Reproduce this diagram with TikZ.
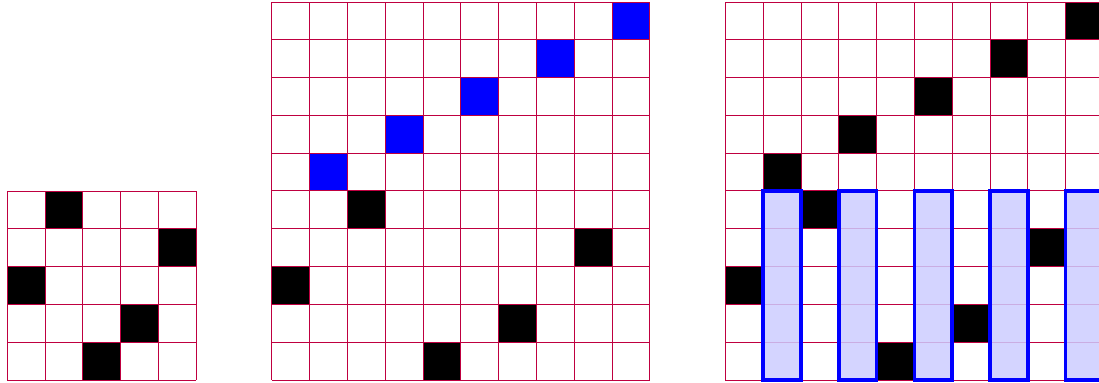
\documentclass[tikz,border=0pt]{standalone}
\usepackage{xcolor}
\usepackage{tikz}

\tikzset{
  gridline/.style={purple, line width=0.6pt},
  strip/.style={draw=blue, line width=2.6pt, fill=blue!20, fill opacity=0.85},
}

\begin{document}
\begin{tikzpicture}
  \useasboundingbox (-0.19,-0.07) rectangle (28.884,10.05);
  % small board
  \foreach \c/\r in {2/1,5/2,1/3,4/4,3/5}
    \fill[black] (\c-1,5-\r) rectangle ++(1,1);
  \draw[gridline] (0,0) grid (5,5);
  % middle board
  \foreach \c/\r in {10/1,8/2,6/3,4/4,2/5}
    \fill[blue] (6+\c,10-\r) rectangle ++(1,1);
  \foreach \c/\r in {3/6,9/7,1/8,7/9,5/10}
    \fill[black] (6+\c,10-\r) rectangle ++(1,1);
  \draw[gridline] (7,0) grid (17,10);
  % right board
  \foreach \c/\r in {10/1,8/2,6/3,4/4,2/5,3/6,9/7,1/8,7/9,5/10}
    \fill[black] (18+\c,10-\r) rectangle ++(1,1);
  \draw[gridline] (19,0) grid (29,10);
  \foreach \c in {2,4,...,10}
    \draw[strip] (18+\c,0) rectangle ++(1,5);
\end{tikzpicture}
\end{document}
